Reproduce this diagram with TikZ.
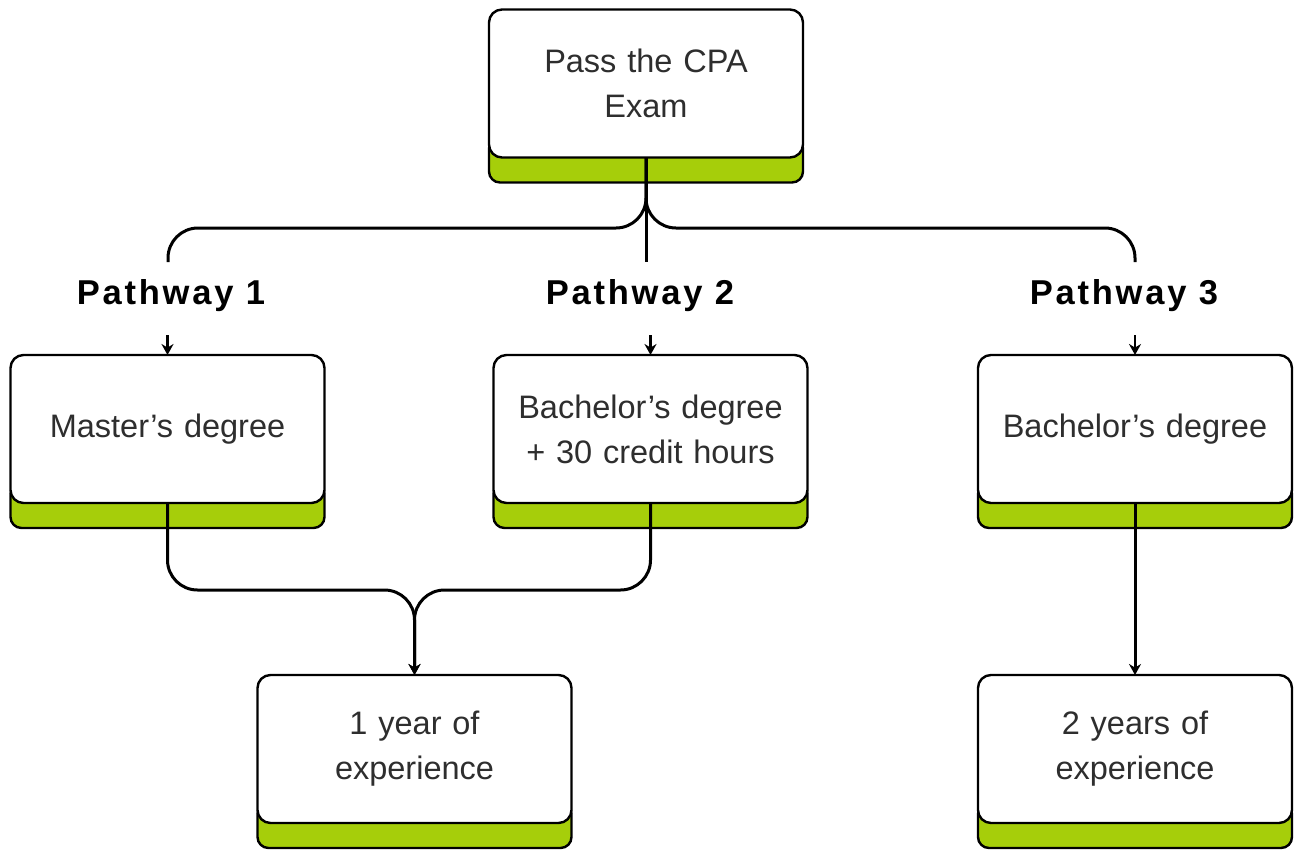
\documentclass[tikz,border=0pt]{standalone}
\usepackage{fontspec}
\setmainfont{Liberation Sans}
\usetikzlibrary{arrows.meta,backgrounds}
\definecolor{lime}{HTML}{A6CE0A}
\definecolor{txt}{HTML}{2E2E2E}
\begin{document}
\begin{tikzpicture}[x=1pt,y=-1pt,
  card/.style={draw=black, line width=2.4pt, fill=white, rounded corners=13pt,
    minimum width=314pt, minimum height=148pt, text width=300pt, align=center,
    font=\fontsize{32.5}{45}\selectfont, text=txt, inner sep=0pt, outer sep=0pt},
  bar/.style={draw=black, line width=2.4pt, fill=lime, rounded corners=11pt},
  plabel/.style={font=\bfseries\fontsize{34.5}{38}\selectfont\addfontfeatures{LetterSpace=8}, text=black, inner sep=0pt},
  link/.style={draw=black, line width=3pt, rounded corners=30pt},
  small/.style={draw=black, line width=2.4pt},
  tip/.style={-{Stealth[length=11pt,width=12pt]}}
]
\useasboundingbox (0,0) rectangle (1296,852);

% cards
\node[card] (top) at (646,83.5) {Pass the CPA\\Exam};
\node[card] (c1) at (167.5,429) {Master’s degree};
\node[card] (c2) at (650.5,429) {Bachelor’s degree\\+ 30 credit hours};
\node[card] (c3) at (1135,429) {Bachelor’s degree};
\node[card] (e1) at (414.5,749) {1 year of\\experience};
\node[card] (e2) at (1135,749) {2 years of\\experience};

% white page and green bars behind the cards
\begin{scope}[on background layer]
  \fill[white] (0,0) rectangle (1296,852);
  \foreach \n in {top,c1,c2,c3,e1,e2}{
    \draw[bar] ([yshift=20pt]\n.south west) rectangle ([yshift=-25pt]\n.south east);
  }
\end{scope}

% pathway labels
\node[plabel] (l1) at (171,296) {Pathway 1};
\node[plabel] (l2) at (640,296) {Pathway 2};
\node[plabel] (l3) at (1124,296) {Pathway 3};

% brace from the top card
\coordinate (b1) at (168,262);
\coordinate (b2) at (646,262);
\coordinate (b3) at (1135,262);
\coordinate (jt) at (646,228);
\draw[link] (top.south) -- (jt) -| (b1);
\draw[link] (top.south) -- (jt) -| (b3);
\draw[link] (top.south) -- (b2);

% small arrows into the pathway cards
\draw[small,tip] ([yshift=20pt]c1.north) -- (c1.north);
\draw[small,tip] ([yshift=20pt]c2.north) -- (c2.north);
\draw[small,tip] ([yshift=20pt]c3.north) -- (c3.north);

% merge into 1 year of experience
\coordinate (jb) at (414.5,590);
\draw[link,tip] (c1.south) |- (jb) -- (e1.north);
\draw[link,tip] (c2.south) |- (jb) -- (e1.north);

% pathway 3 to 2 years
\draw[link,tip] (c3.south) -- (e2.north);
\end{tikzpicture}
\end{document}
